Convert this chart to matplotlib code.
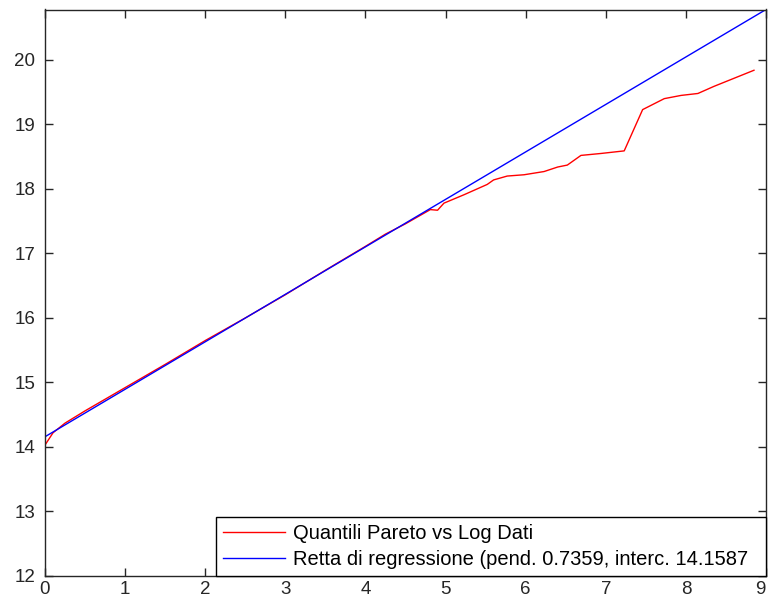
import matplotlib
matplotlib.use("Agg")
import matplotlib.pyplot as plt
import numpy as np

# regressione
slope = 0.7359
intercept = 14.1587
x_line = [0, 9]

# quantili Pareto vs log dati
x_q = [0, 0.1, 0.25, 0.5, 0.75, 1, 1.5, 2, 2.5, 3, 3.5, 4, 4.25, 4.5, 4.81,
       4.9, 4.98, 5.23, 5.52, 5.6, 5.77, 5.98, 6.23, 6.4, 6.52, 6.69, 6.94,
       7.23, 7.46, 7.73, 7.94, 8.15, 8.35, 8.85]
y_q = [14.03, 14.22, 14.37, 14.56, 14.74, 14.92, 15.28, 15.65, 16.0, 16.36,
       16.74, 17.11, 17.30, 17.46, 17.68, 17.67, 17.78, 17.91, 18.07, 18.14,
       18.20, 18.22, 18.27, 18.34, 18.37, 18.52, 18.55, 18.59, 19.23, 19.40,
       19.45, 19.48, 19.59, 19.84]

labels = ['Quantili Pareto vs Log Dati',
          'Retta di regressione (pend. %.4f, interc. %.4f' % (slope, intercept)]

plt.rcParams['font.family'] = ['Liberation Sans', 'DejaVu Sans']

fig = plt.figure(figsize=(7.68, 6), dpi=100)
ax = fig.add_axes([45 / 768, 24 / 600, 721 / 768, 566.5 / 600])

y_line = slope * np.array(x_line) + intercept
ax.plot(x_q, y_q, color='#ff0000', lw=1, label=labels[0])
ax.plot(x_line, y_line, color='#0000ff', lw=1, label=labels[1])

ax.set_xlim(0, 9)
ax.set_ylim(12, y_line[-1])
ax.set_xticks(range(0, 10))
ax.set_yticks(range(12, 21))
ax.tick_params(direction='in', top=True, right=True, length=6, width=1,
               color='#262626', labelcolor='#262626', labelsize=13.5)
ax.tick_params(axis='x', pad=3.5)
ax.tick_params(axis='y', pad=7)
# l'ultima etichetta (9) sporge dal bordo destro: la allineo a destra
ax.get_xticklabels()[-1].set_ha('right')
for sp in ax.spines.values():
    sp.set_color('#262626')
    sp.set_linewidth(1)

# box della legenda: da x=216 px al bordo destro degli assi
x0 = (216 - 45) / 721
leg = ax.legend(loc='lower left', bbox_to_anchor=(x0, 0, 1 - x0, 0.1),
                mode='expand', borderaxespad=0, fancybox=False,
                edgecolor='black', framealpha=1, fontsize=14.5,
                handlelength=3.1, handletextpad=0.35, borderpad=0.35,
                labelspacing=0.35)
leg.get_frame().set_linewidth(1)

fig.savefig('out.png', dpi=100)
plt.close(fig)
